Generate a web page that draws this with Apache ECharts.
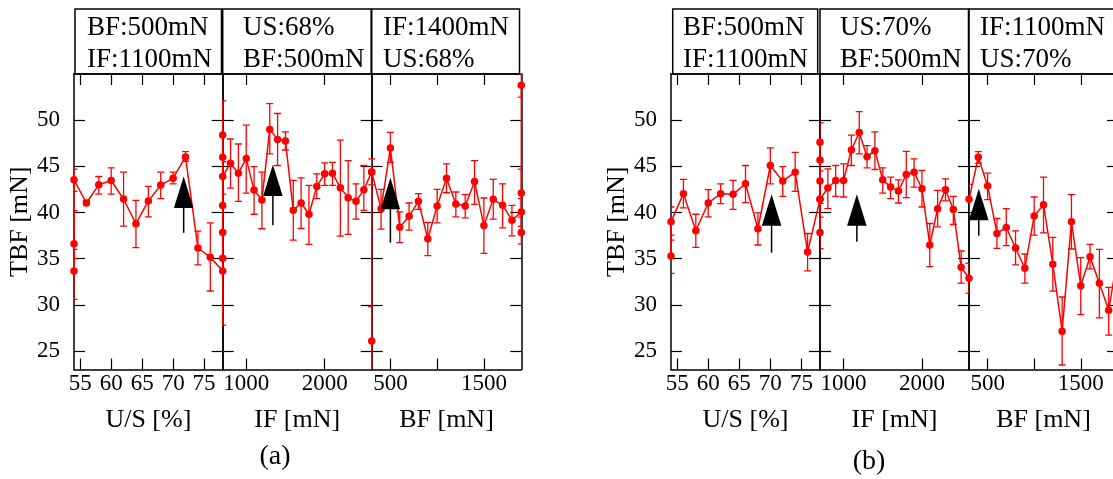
<!DOCTYPE html>
<html><head><meta charset="utf-8">
<script src="https://cdn.jsdelivr.net/npm/echarts@6/dist/echarts.min.js"></script>
<style>html,body{margin:0;padding:0;background:#fff}#c{width:1113px;height:479px}</style>
</head><body><div id="c"></div>
<script>
// ---------- data ----------
const yTicks = [25, 30, 35, 40, 45, 50];
const usTicks = [55, 60, 65, 70, 75];
const ifTicks = [1000, 2000];
const bfTicks = [500, 1000, 1500];
const bfLabels = [500, 1500];

// (a) U/S sweep  (BF 500 mN, IF 1100 mN)
const usA_x  = [54, 54, 54, 56, 58, 60, 62, 64, 66, 68, 70, 72, 74, 76, 78];
const usA_y  = [33.68, 36.62, 43.54, 41.03, 43.0, 43.47, 41.46, 38.77, 41.25, 42.97, 43.72, 46.02, 36.16, 35.15, 33.68];
const usA_lo = [30.6, 35.0, 42.3, 40.8, 42.0, 42.0, 38.52, 36.19, 39.53, 41.5, 43.11, 45.55, 34.33, 31.5, null];
const usA_hi = [36.0, 40.2, 44.7, 41.3, 43.9, 44.84, 44.37, 41.32, 42.83, 44.37, 44.37, 46.59, 37.98, 38.88, null];

// (a) IF sweep  (US 68 %, BF 500 mN)
const ifA_x  = [700, 700, 700, 700, 700, 700, 800, 900, 1000, 1100, 1200, 1300, 1400, 1500, 1600, 1700, 1800, 1900, 2000, 2100, 2200, 2300, 2400, 2500, 2600, 2600, 2600];
const ifA_y  = [35.04, 37.84, 40.75, 48.39, 45.98, 43.9, 45.34, 44.26, 45.84, 42.43, 41.36, 49.0, 47.92, 47.74, 40.24, 41.03, 39.81, 42.83, 44.19, 44.26, 42.68, 41.61, 41.21, 42.47, 44.4, 26.08, 18.0];
const ifA_lo = [27.8, null, null, 46.0, null, 42.0, 42.65, 41.21, 42.11, 39.81, 38.24, 46.34, 45.09, 46.77, 37.02, 38.27, 36.55, 41.5, 42.93, 42.93, 37.45, 37.63, 39.28, 40.24, 43.0, 22.0, null];
const ifA_hi = [38.0, null, null, 52.1, null, 45.5, 47.96, 47.42, 49.46, 44.98, 44.37, 51.79, 50.72, 48.74, 43.47, 43.76, 42.93, 44.19, 45.37, 45.44, 47.85, 45.62, 43.11, 45.09, 45.8, 29.8, null];

// (a) BF sweep  (IF 1400 mN, US 68 %)
const bfA_x  = [300, 400, 500, 600, 700, 800, 900, 1000, 1100, 1200, 1300, 1400, 1500, 1600, 1700, 1800, 1900, 1900, 1900, 1900];
const bfA_y  = [44.4, 40.42, 46.99, 38.41, 39.6, 41.21, 37.16, 40.71, 43.72, 40.93, 40.71, 43.36, 38.59, 41.43, 40.78, 39.17, 40.06, 37.84, 42.1, 53.78];
const bfA_lo = [43.0, 38.2, 45.44, 36.73, 38.09, 40.35, 35.33, 38.88, 42.14, 39.53, 39.42, 40.89, 35.58, 39.28, 38.34, 37.48, 38.5, 36.6, 40.0, 52.5];
const bfA_hi = [45.8, 42.5, 48.67, 40.06, 41.03, 42.04, 38.92, 42.5, 45.27, 42.22, 41.93, 45.62, 41.57, 43.58, 43.11, 40.78, 41.5, 39.5, 44.7, 56.0];

// (b) U/S sweep  (BF 500 mN, IF 1100 mN)
const usB_x  = [54, 54, 56, 58, 60, 62, 64, 66, 68, 70, 72, 74, 76, 78];
const usB_y  = [35.29, 38.99, 42.04, 38.02, 41.03, 42.04, 41.97, 43.11, 38.24, 45.09, 43.4, 44.37, 35.72, 41.43];
const usB_lo = [33.4, 37.55, 40.5, 36.23, 39.53, 40.96, 40.35, 41.07, 36.48, 43.11, 41.75, 42.29, 33.68, null];
const usB_hi = [37.0, 40.6, 43.58, 39.81, 42.47, 43.11, 43.47, 45.09, 39.96, 46.99, 44.98, 46.52, 37.73, null];

// (b) IF sweep  (US 70 %, BF 500 mN)
const ifB_x  = [700, 700, 700, 700, 700, 800, 900, 1000, 1100, 1200, 1300, 1400, 1500, 1600, 1700, 1800, 1900, 2000, 2100, 2200, 2300, 2400, 2500, 2600];
const ifB_y  = [37.84, 47.6, 45.7, 43.4, 41.43, 42.65, 43.47, 43.47, 46.77, 48.67, 46.05, 46.7, 43.54, 42.75, 42.32, 44.12, 44.37, 42.57, 36.48, 40.42, 42.47, 40.32, 34.07, 32.89];
const ifB_lo = [36.1, 45.5, null, 41.0, null, 40.42, 41.75, 41.68, 45.09, 46.34, 44.84, 44.66, 42.11, 41.5, 41.03, 41.61, 42.75, 40.6, 34.15, 38.45, 41.25, 38.7, 32.35, 31.28];
const ifB_hi = [39.5, 49.7, null, 44.5, null, 44.73, 45.09, 45.27, 48.39, 50.93, 47.24, 48.74, 44.84, 43.83, 43.54, 46.63, 45.8, 44.55, 38.81, 42.4, 43.65, 41.75, 35.83, 34.5];

// (b) BF sweep  (IF 1100 mN, US 70 %)
const bfB_x  = [300, 400, 500, 600, 700, 800, 900, 1000, 1100, 1200, 1300, 1400, 1500, 1600, 1700, 1800, 1900];
const bfB_y  = [41.43, 45.98, 42.86, 37.73, 38.38, 36.16, 33.97, 39.63, 40.85, 34.4, 27.15, 38.99, 32.07, 35.22, 32.35, 29.41, 35.5];
const bfB_lo = [39.71, 45.34, 41.39, 36.12, 36.41, 34.33, 32.35, 37.55, 37.8, 31.49, 23.49, 36.05, 28.95, 33.9, 28.59, 26.72, null];
const bfB_hi = [43.04, 46.59, 44.26, 39.35, 40.42, 38.02, 35.51, 41.68, 43.83, 37.3, 30.85, 41.93, 35.11, 36.55, 36.01, 31.89, null];

// optimum markers: [x, tip value, tail value]
const arrowsA = [[71.7, 43.9, 37.8], [1340, 45.19, 38.63], [500, 43.76, 36.73]];
const arrowsB = [[70.2, 41.97, 35.65], [1170, 41.97, 36.84], [405, 42.58, 37.48]];

const headersA = [["BF:500mN", "IF:1100mN"], ["US:68%", "BF:500mN"], ["IF:1400mN", "US:68%"]];
const headersB = [["BF:500mN", "IF:1100mN"], ["US:70%", "BF:500mN"], ["IF:1100mN", "US:70%"]];
const axisNames = ["U/S [%]", "IF [mN]", "BF [mN]"];
const yName = "TBF [mN]";

// ---------- chart ----------
const RED = '#ff0000';
const FONT = '"Liberation Serif", "Times New Roman", serif';
const BLACK = '#000';

const panels = [
  {grid:{left:74,   top:74, width:148.7, height:295.5}, x:usA_x, y:usA_y, lo:usA_lo, hi:usA_hi, min:54,  max:78,   ticks:usTicks, labels:usTicks, name:axisNames[0], yLab:true,  arrow:arrowsA[0]},
  {grid:{left:222.7,top:74, width:149,   height:295.5}, x:ifA_x, y:ifA_y, lo:ifA_lo, hi:ifA_hi, min:700, max:2600, ticks:ifTicks, labels:ifTicks, name:axisNames[1], yLab:false, arrow:arrowsA[1]},
  {grid:{left:371.7,top:74, width:149.6, height:295.5}, x:bfA_x, y:bfA_y, lo:bfA_lo, hi:bfA_hi, min:300, max:1900, ticks:bfTicks, labels:bfLabels, name:axisNames[2], yLab:false, arrow:arrowsA[2]},
  {grid:{left:671,  top:74, width:149,   height:295.5}, x:usB_x, y:usB_y, lo:usB_lo, hi:usB_hi, min:54,  max:78,   ticks:usTicks, labels:usTicks, name:axisNames[0], yLab:true,  arrow:arrowsB[0]},
  {grid:{left:820,  top:74, width:149,   height:295.5}, x:ifB_x, y:ifB_y, lo:ifB_lo, hi:ifB_hi, min:700, max:2600, ticks:ifTicks, labels:ifTicks, name:axisNames[1], yLab:false, arrow:arrowsB[1]},
  {grid:{left:969,  top:74, width:149,   height:295.5}, x:bfB_x, y:bfB_y, lo:bfB_lo, hi:bfB_hi, min:300, max:1900, ticks:bfTicks, labels:bfLabels, name:axisNames[2], yLab:false, arrow:arrowsB[2]}
];

const axLine = {show:true, onZero:false, lineStyle:{color:BLACK, width:1.5}};
const tickStyle = {color:BLACK, width:1.2};
const labStyle = {color:BLACK, fontSize:23, fontFamily:FONT, formatter:(v) => String(v)};

const grid = [], xAxis = [], yAxis = [], series = [];

function renderErr(params, api) {
  const x = api.value(0);
  const p1 = api.coord([x, api.value(1)]);
  const p2 = api.coord([x, api.value(2)]);
  const c = 3.5, st = {stroke:RED, lineWidth:1.3};
  return {type:'group', children:[
    {type:'line', shape:{x1:p1[0], y1:p1[1], x2:p2[0], y2:p2[1]}, style:st},
    {type:'line', shape:{x1:p1[0]-c, y1:p1[1], x2:p1[0]+c, y2:p1[1]}, style:st},
    {type:'line', shape:{x1:p2[0]-c, y1:p2[1], x2:p2[0]+c, y2:p2[1]}, style:st}
  ]};
}
function renderArrow(params, api) {
  const x = api.value(0);
  const tip = api.coord([x, api.value(1)]);
  const tail = api.coord([x, api.value(2)]);
  const H = 31.5, W = 9.75;
  return {type:'group', children:[
    {type:'line', shape:{x1:tip[0], y1:tip[1]+H-1, x2:tip[0], y2:tail[1]}, style:{stroke:BLACK, lineWidth:1.5}},
    {type:'polygon', shape:{points:[[tip[0], tip[1]], [tip[0]-W, tip[1]+H], [tip[0]+W, tip[1]+H]]}, style:{fill:BLACK}}
  ]};
}

panels.forEach((p, gi) => {
  grid.push(Object.assign({show:false, containLabel:false, outerBoundsMode:'none'}, p.grid));
  xAxis.push({
    type:'value', gridIndex:gi, position:'bottom', min:p.min, max:p.max,
    name:p.name, nameLocation:'middle', nameGap:38,
    nameTextStyle:{color:BLACK, fontSize:26, fontFamily:FONT},
    axisLine:axLine,
    axisTick:{show:true, inside:true, length:11, customValues:p.ticks, lineStyle:tickStyle},
    axisLabel:Object.assign({show:true, margin:3, customValues:p.labels}, labStyle),
    splitLine:{show:false}
  });
  xAxis.push({
    type:'value', gridIndex:gi, position:'top', min:p.min, max:p.max,
    axisLine:axLine,
    axisTick:{show:true, inside:true, length:11, customValues:p.ticks, lineStyle:tickStyle},
    axisLabel:{show:false}, splitLine:{show:false}
  });
  yAxis.push({
    type:'value', gridIndex:gi, position:'left', min:23, max:55,
    name:p.yLab ? yName : '', nameLocation:'middle', nameGap:41, nameRotate:90,
    nameTextStyle:{color:BLACK, fontSize:26, fontFamily:FONT},
    axisLine:axLine,
    axisTick:{show:true, inside:true, length:11, customValues:yTicks, lineStyle:tickStyle},
    axisLabel:Object.assign({show:p.yLab, margin:14, customValues:yTicks}, labStyle),
    splitLine:{show:false}
  });
  yAxis.push({
    type:'value', gridIndex:gi, position:'right', min:23, max:55,
    axisLine:axLine,
    axisTick:{show:true, inside:true, length:11, customValues:yTicks, lineStyle:tickStyle},
    axisLabel:{show:false}, splitLine:{show:false}
  });
  const errData = [];
  p.x.forEach((xv, i) => { if (p.lo[i] != null && p.hi[i] != null) errData.push([xv, p.lo[i], p.hi[i]]); });
  series.push({
    type:'custom', xAxisIndex:2*gi, yAxisIndex:2*gi, data:errData, renderItem:renderErr,
    clip:true, z:2, silent:true, encode:{x:0, y:[1,2]}
  });
  series.push({
    type:'line', xAxisIndex:2*gi, yAxisIndex:2*gi,
    data:p.x.map((xv, i) => [xv, p.y[i]]),
    symbol:'circle', symbolSize:7.5, showSymbol:true, clip:true,
    lineStyle:{color:RED, width:1.5}, itemStyle:{color:RED}, z:3, silent:true
  });
  series.push({
    type:'custom', xAxisIndex:2*gi, yAxisIndex:2*gi, data:[p.arrow], renderItem:renderArrow,
    clip:false, z:5, silent:true, encode:{x:0, y:[1,2]}
  });
});

// header boxes
const graphic = [];
const boxes = [
  {x:75,    w:146.5, left:87,  text:headersA[0]},
  {x:222.7, w:148.5, left:243, text:headersA[1]},
  {x:371.7, w:147.8, left:383, text:headersA[2]},
  {x:672.7, w:145,   left:683, text:headersB[0]},
  {x:820,   w:148.5, left:840, text:headersB[1]},
  {x:969,   w:150,   left:980, text:headersB[2]}
];
boxes.forEach(b => {
  graphic.push({type:'rect', shape:{x:b.x, y:9, width:b.w, height:65}, style:{fill:'none', stroke:BLACK, lineWidth:1.5}, z:10});
  graphic.push({type:'text', x:b.left, y:28, style:{text:b.text[0], font:'27px ' + FONT, fill:BLACK, verticalAlign:'middle'}, z:10});
  graphic.push({type:'text', x:b.left, y:60, style:{text:b.text[1], font:'27px ' + FONT, fill:BLACK, verticalAlign:'middle'}, z:10});
});
graphic.push({type:'text', x:275, y:457, style:{text:'(a)', font:'28px ' + FONT, fill:BLACK, align:'center', verticalAlign:'middle'}, z:10});
graphic.push({type:'text', x:869, y:462, style:{text:'(b)', font:'28px ' + FONT, fill:BLACK, align:'center', verticalAlign:'middle'}, z:10});

const chart = echarts.init(document.getElementById('c'), null, {renderer:'canvas'});
chart.setOption({
  animation:false,
  backgroundColor:'#fff',
  grid, xAxis, yAxis, series, graphic
});
</script></body></html>
